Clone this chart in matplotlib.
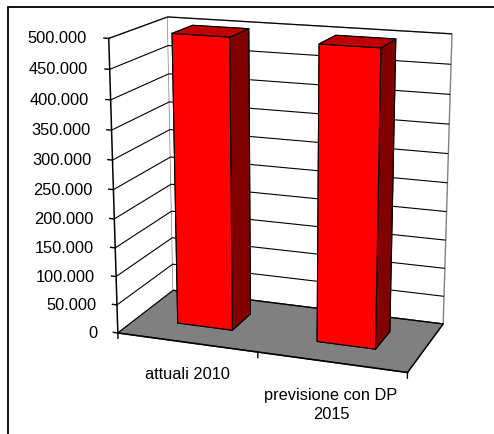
import matplotlib
matplotlib.use("Agg")
import matplotlib.pyplot as plt
from matplotlib.ticker import FuncFormatter
from matplotlib.patches import Rectangle
import numpy as np

categories = ["attuali 2010", "previsione con DP\n2015"]
values = [500000, 498000]
z_ticks = [0, 50000, 100000, 150000, 200000, 250000, 300000, 350000, 400000, 450000, 500000]

plt.rcParams['font.family'] = ['Liberation Sans', 'DejaVu Sans']
plt.rcParams['font.size'] = 11.75

W, H = 494, 434
fig = plt.figure(figsize=(W / 100, H / 100), dpi=100)
S = 430
cx, cy = 276, 192
ax = fig.add_axes([(cx - S / 2) / W, (H - cy - S / 2) / H, S / W, S / H], projection='3d')
ax.set_proj_type('persp', focal_length=0.65)
ax.view_init(elev=15.5, azim=-70)
ax.set_box_aspect((315, 143, 313), zoom=1.02)
ax.set_xlim(0, len(categories))
ax.set_ylim(0, 1)
ax.set_zlim(0, z_ticks[-1])

# bars
bar_w, bar_d, y0 = 0.40, 0.37, 0.34
xs = np.arange(len(values)) + 0.5 - bar_w / 2
face = ['#FF0000', '#C00000', '#FF0000', '#FF0000', '#FF0000', '#800000']
ax.bar3d(xs, [y0] * len(values), [0] * len(values), bar_w, bar_d, values,
         color=face * len(values), shade=False, edgecolor='black', linewidth=0.8)

# panes
ax.xaxis.set_pane_color((1, 1, 1, 1))
ax.yaxis.set_pane_color((1, 1, 1, 1))
ax.zaxis.set_pane_color('#808080')
for a in (ax.xaxis, ax.yaxis):
    a.pane.set_edgecolor('#808080')
    a.pane.set_linewidth(1.0)
ax.zaxis.pane.set_edgecolor('#303030')
ax.zaxis.pane.set_linewidth(1.0)

# grid
ax.grid(True)
ax.xaxis._axinfo['grid'].update(color=(0, 0, 0, 0), linewidth=0)
ax.yaxis._axinfo['grid'].update(color=(0, 0, 0, 0), linewidth=0)
ax.zaxis._axinfo['grid'].update(color='black', linewidth=0.8, linestyle='-')

# ticks
ax.set_zticks(z_ticks)
ax.zaxis.set_major_formatter(FuncFormatter(lambda v, p: f"{int(v):,}".replace(",", ".")))
ax.zaxis.set_ticks_position('lower')
ax.zaxis.set_label_position('lower')
ax.set_xticks(np.arange(len(categories) + 1))
ax.set_xticklabels([''] * (len(categories) + 1))
ax.set_yticks([])
ax.xaxis._get_tickdir = lambda position: 2
ax.zaxis._get_tickdir = lambda position: 0
ax.xaxis._axinfo['tick'].update(inward_factor=0, outward_factor=0.24)
ax.zaxis._axinfo['tick'].update(inward_factor=0, outward_factor=0.21)
for a in (ax.xaxis, ax.zaxis):
    a._axinfo['tick']['linewidth'] = {True: 1.0, False: 0.5}
    a.line.set_color('black')
    a.line.set_linewidth(1.1)
ax.yaxis.line.set_color('black')
ax.yaxis.line.set_linewidth(0.9)
for t in ax.zaxis.get_major_ticks():
    t.label1.set_horizontalalignment('right')
    t.label1.set_verticalalignment('center')
for t in ax.xaxis.get_major_ticks():
    t.label1.set_visible(False)
for a in (ax.xaxis, ax.yaxis, ax.zaxis):
    a.label.set_visible(False)
    a.offsetText.set_visible(False)
ax.zaxis.set_tick_params(pad=2)

# category labels
for i, c in enumerate(categories):
    ax.text(i + 0.5, 0, -44000, c, ha='center', va='top', multialignment='center',
            linespacing=1.4)

fig.patches.append(Rectangle((7.5 / W, -0.1), 1.2, 1.1 - 7.5 / H, transform=fig.transFigure,
                             fill=False, edgecolor='black', linewidth=1.3))
fig.savefig('out.png', dpi=100, facecolor='white')
